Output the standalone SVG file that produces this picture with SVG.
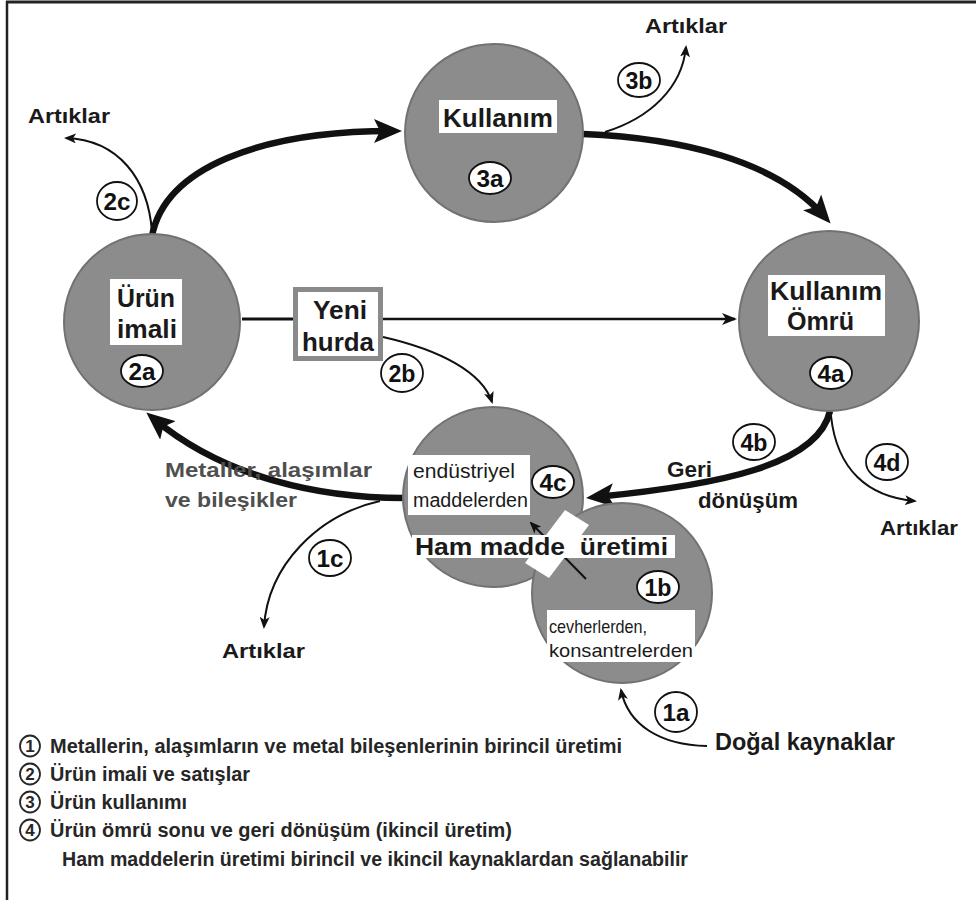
<svg xmlns="http://www.w3.org/2000/svg" width="976" height="900" viewBox="0 0 976 900">
  <style>
    .bg { fill: #ffffff; }
    .stage { fill: #8c8c8c; stroke: #727272; stroke-width: 2; }
    .box { fill: #ffffff; }
    .lbl { font-family: "Liberation Sans", Arial, sans-serif; font-weight: bold; fill: #1a1a1a; }
    .sub { font-family: "Liberation Sans", Arial, sans-serif; font-weight: normal; fill: #1a1a1a; }
    .grey { font-family: "Liberation Sans", Arial, sans-serif; font-weight: bold; fill: #4f4f4f; }
    .badge { fill: #ffffff; stroke: #111111; stroke-width: 1.8; }
    .btxt { font-family: "Liberation Sans", Arial, sans-serif; font-weight: bold; font-size: 24px; fill: #111111; text-anchor: middle; }
    .thick { fill: none; stroke: #111111; stroke-width: 6.5; }
    .thin { fill: none; stroke: #111111; stroke-width: 2; }
    .legend { font-family: "Liberation Sans Narrow", "Liberation Sans", Arial, sans-serif; font-size: 20px; font-weight: bold; fill: #262626; }
    .ring { fill: #ffffff; stroke: #262626; stroke-width: 1.8; }
    .num { font-family: "Liberation Sans", Arial, sans-serif; font-size: 17px; font-weight: bold; fill: #262626; text-anchor: middle; }
  </style>
  <defs>
    <marker id="headBig" markerUnits="userSpaceOnUse" markerWidth="28" markerHeight="24" viewBox="0 0 28 24" refX="18" refY="12" orient="auto">
      <path d="M0,0 L28,12 L0,24 L6,12 z" fill="#111111"/>
    </marker>
    <marker id="headSmall" markerUnits="userSpaceOnUse" markerWidth="12" markerHeight="10" viewBox="0 0 12 10" refX="10" refY="5" orient="auto">
      <path d="M0,0 L12,5 L0,10 L3,5 z" fill="#111111"/>
    </marker>
    <marker id="headMid" markerUnits="userSpaceOnUse" markerWidth="15" markerHeight="12" viewBox="0 0 15 12" refX="13" refY="6" orient="auto">
      <path d="M0,0 L15,6 L0,12 L4,6 z" fill="#111111"/>
    </marker>
  </defs>

  <rect class="bg" x="0" y="0" width="976" height="900"/>

  <!-- frame -->
  <g id="frame" stroke="#222222">
    <line x1="6" y1="2" x2="976" y2="2" stroke-width="3"/>
    <line x1="7" y1="1" x2="7" y2="900" stroke-width="2.5"/>
  </g>

  <!-- flows between the stages -->
  <g id="connectors">
    <path class="thick" d="M152,236 C165,168 260,131 392,131" marker-end="url(#headBig)"/>
    <path class="thick" d="M583,134 C680,138 775,160 824,216" marker-end="url(#headBig)"/>
    <path class="thick" d="M830,411 C818,465 720,485 596,497" marker-end="url(#headBig)"/>
    <path class="thick" d="M404,498 C320,498 225,478 154,419" marker-end="url(#headBig)"/>

    <path class="thin" d="M152,232 C148,178 118,140 66,138" marker-end="url(#headSmall)"/>
    <path class="thin" d="M605,132 C650,118 682,88 686,47" marker-end="url(#headSmall)"/>
    <path class="thin" d="M831,416 C837,470 868,497 915,501" marker-end="url(#headSmall)"/>
    <path class="thin" d="M380,501 C318,515 268,565 264,627" marker-end="url(#headSmall)"/>
    <path class="thin" d="M707,746 C660,745 628,725 621,690" marker-end="url(#headSmall)"/>
    <path class="thin" d="M383,337 C440,350 482,372 492,402" marker-end="url(#headSmall)"/>

    <line x1="242" y1="319" x2="295" y2="319" stroke="#111111" stroke-width="3"/>
    <path d="M381,319 L735,319" fill="none" stroke="#111111" stroke-width="2.5" marker-end="url(#headMid)"/>
  </g>

  <!-- stage 2: product manufacturing -->
  <g id="urun-imali">
    <circle class="stage" cx="152" cy="322" r="88"/>
    <rect class="box" x="110" y="279" width="72" height="66"/>
    <text class="lbl" x="117" y="307" font-size="26" textLength="58" lengthAdjust="spacingAndGlyphs">Ürün</text>
    <text class="lbl" x="117" y="338" font-size="26" textLength="60" lengthAdjust="spacingAndGlyphs">imali</text>
    <ellipse class="badge" cx="142" cy="371" rx="21" ry="16"/>
    <text class="btxt" x="142" y="380" textLength="27" lengthAdjust="spacingAndGlyphs">2a</text>
  </g>

  <!-- stage 3: use -->
  <g id="kullanim">
    <circle class="stage" cx="494" cy="133" r="89"/>
    <rect class="box" x="439" y="100" width="118" height="33"/>
    <text class="lbl" x="443" y="127" font-size="26" textLength="110" lengthAdjust="spacingAndGlyphs">Kullanım</text>
    <ellipse class="badge" cx="490" cy="178" rx="21" ry="16"/>
    <text class="btxt" x="490" y="187" textLength="27" lengthAdjust="spacingAndGlyphs">3a</text>
  </g>

  <!-- stage 4: end of life -->
  <g id="kullanim-omru">
    <circle class="stage" cx="829" cy="321" r="90"/>
    <rect class="box" x="768" y="275" width="117" height="61"/>
    <text class="lbl" x="770" y="300" font-size="25" textLength="112" lengthAdjust="spacingAndGlyphs">Kullanım</text>
    <text class="lbl" x="787" y="330" font-size="25" textLength="67" lengthAdjust="spacingAndGlyphs">Ömrü</text>
    <ellipse class="badge" cx="831" cy="373" rx="21" ry="16"/>
    <text class="btxt" x="831" y="382" textLength="27" lengthAdjust="spacingAndGlyphs">4a</text>
  </g>

  <!-- new scrap -->
  <g id="yeni-hurda">
    <rect x="295.5" y="289.5" width="85" height="69" fill="#ffffff" stroke="#8a8a8a" stroke-width="5"/>
    <text class="lbl" x="313" y="319" font-size="26" textLength="54" lengthAdjust="spacingAndGlyphs">Yeni</text>
    <text class="lbl" x="302" y="351" font-size="26" textLength="72" lengthAdjust="spacingAndGlyphs">hurda</text>
  </g>

  <!-- stage 1: raw material production (secondary + primary) -->
  <g id="ham-madde">
    <circle class="stage" cx="493" cy="497" r="90"/>
    <circle class="stage" cx="622" cy="593" r="90"/>
    <path d="M586,579 L531,523" class="thin" stroke-width="1.8" marker-end="url(#headSmall)"/>
    <polygon points="565,510 589,525 549,578 525,563" fill="#ffffff"/>
    <rect class="box" x="412" y="535" width="263" height="23"/>
    <text class="lbl" x="415" y="555" font-size="24" textLength="253" lengthAdjust="spacingAndGlyphs" xml:space="preserve">Ham madde  üretimi</text>

    <rect class="box" x="408" y="455" width="122" height="60"/>
    <text class="sub" x="413" y="478" font-size="20" textLength="102" lengthAdjust="spacingAndGlyphs">endüstriyel</text>
    <text class="sub" x="413" y="507" font-size="20" textLength="115" lengthAdjust="spacingAndGlyphs">maddelerden</text>

    <rect class="box" x="547" y="610" width="148" height="52"/>
    <text class="sub" x="549" y="633" font-size="19" textLength="98" lengthAdjust="spacingAndGlyphs">cevherlerden,</text>
    <text class="sub" x="549" y="657" font-size="19" textLength="144" lengthAdjust="spacingAndGlyphs">konsantrelerden</text>

    <ellipse class="badge" cx="553" cy="482" rx="21" ry="16"/>
    <text class="btxt" x="553" y="491" textLength="27" lengthAdjust="spacingAndGlyphs">4c</text>
    <ellipse class="badge" cx="658" cy="587" rx="21" ry="16"/>
    <text class="btxt" x="658" y="596" textLength="27" lengthAdjust="spacingAndGlyphs">1b</text>
  </g>

  <!-- flow badges -->
  <g id="flow-badges">
    <ellipse class="badge" cx="117" cy="201" rx="20" ry="19"/>
    <text class="btxt" x="117" y="210" textLength="27" lengthAdjust="spacingAndGlyphs">2c</text>
    <ellipse class="badge" cx="639" cy="80" rx="21" ry="17"/>
    <text class="btxt" x="639" y="89" textLength="27" lengthAdjust="spacingAndGlyphs">3b</text>
    <ellipse class="badge" cx="402" cy="373" rx="21" ry="19"/>
    <text class="btxt" x="402" y="382" textLength="27" lengthAdjust="spacingAndGlyphs">2b</text>
    <ellipse class="badge" cx="754" cy="442" rx="21" ry="18"/>
    <text class="btxt" x="754" y="451" textLength="27" lengthAdjust="spacingAndGlyphs">4b</text>
    <ellipse class="badge" cx="887" cy="462" rx="21" ry="18"/>
    <text class="btxt" x="887" y="471" textLength="27" lengthAdjust="spacingAndGlyphs">4d</text>
    <ellipse class="badge" cx="330" cy="558" rx="21" ry="18"/>
    <text class="btxt" x="330" y="567" textLength="27" lengthAdjust="spacingAndGlyphs">1c</text>
    <ellipse class="badge" cx="676" cy="712" rx="21" ry="20"/>
    <text class="btxt" x="676" y="721" textLength="27" lengthAdjust="spacingAndGlyphs">1a</text>
  </g>

  <!-- flow labels -->
  <g id="flow-labels">
    <text class="lbl" x="28" y="123" font-size="21" textLength="82" lengthAdjust="spacingAndGlyphs">Artıklar</text>
    <text class="lbl" x="645" y="33" font-size="21" textLength="82" lengthAdjust="spacingAndGlyphs">Artıklar</text>
    <text class="lbl" x="880" y="535" font-size="21" textLength="78" lengthAdjust="spacingAndGlyphs">Artıklar</text>
    <text class="lbl" x="222" y="658" font-size="21" textLength="83" lengthAdjust="spacingAndGlyphs">Artıklar</text>
    <text class="lbl" x="667" y="477" font-size="22" textLength="45" lengthAdjust="spacingAndGlyphs">Geri</text>
    <text class="lbl" x="698" y="508" font-size="22" textLength="100" lengthAdjust="spacingAndGlyphs">dönüşüm</text>
    <text class="grey" x="165" y="477" font-size="21" textLength="207" lengthAdjust="spacingAndGlyphs">Metaller, alaşımlar</text>
    <text class="grey" x="165" y="507" font-size="21" textLength="132" lengthAdjust="spacingAndGlyphs">ve bileşikler</text>
    <text class="lbl" x="715" y="750" font-size="24" textLength="180" lengthAdjust="spacingAndGlyphs">Doğal kaynaklar</text>
  </g>

  <!-- legend: numbered stages and a note -->
  <g id="legend" class="legend">
    <ellipse class="ring" cx="30" cy="746" rx="10" ry="10.5"/>
    <text class="num" x="30" y="752">1</text>
    <text x="50" y="753" textLength="572" lengthAdjust="spacingAndGlyphs">Metallerin, alaşımların ve metal bileşenlerinin birincil üretimi</text>
    <ellipse class="ring" cx="30" cy="774" rx="10" ry="10.5"/>
    <text class="num" x="30" y="780">2</text>
    <text x="50" y="781" textLength="200" lengthAdjust="spacingAndGlyphs">Ürün imali ve satışlar</text>
    <ellipse class="ring" cx="30" cy="802" rx="10" ry="10.5"/>
    <text class="num" x="30" y="808">3</text>
    <text x="50" y="809" textLength="137" lengthAdjust="spacingAndGlyphs">Ürün kullanımı</text>
    <ellipse class="ring" cx="30" cy="830" rx="10" ry="10.5"/>
    <text class="num" x="30" y="836">4</text>
    <text x="50" y="837" textLength="462" lengthAdjust="spacingAndGlyphs">Ürün ömrü sonu ve geri dönüşüm (ikincil üretim)</text>
    <text x="62" y="866" textLength="626" lengthAdjust="spacingAndGlyphs">Ham maddelerin üretimi birincil ve ikincil kaynaklardan sağlanabilir</text>
  </g>
</svg>
